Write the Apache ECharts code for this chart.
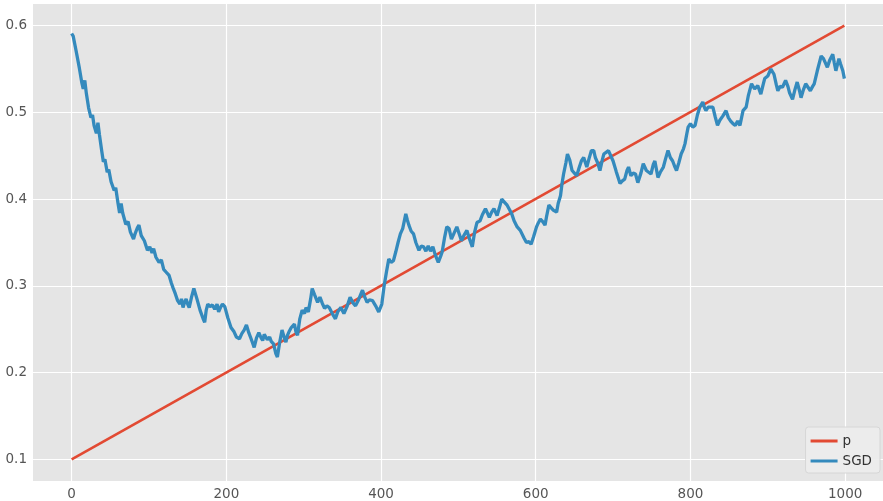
<!DOCTYPE html>
<html>
<head>
<meta charset="utf-8">
<script src="https://cdn.jsdelivr.net/npm/echarts@6/dist/echarts.min.js"></script>
<style>
  html, body { margin: 0; padding: 0; background: #ffffff; }
  #chart { width: 883px; height: 501px; }
</style>
</head>
<body>
<div id="chart"></div>
<script>
// Target probability p rises linearly over the iterations
const pIter = [0, 999];
const pValue = [0.1, 0.6];

// SGD estimate, sampled along the run
const sgdIter = [
  0, 2, 6, 10, 13, 15, 17, 19, 22, 25, 27, 29, 32, 34, 36, 39, 41, 43, 46, 48,
  51, 55, 57, 60, 62, 64, 66, 70, 73, 76, 80, 82, 85, 87, 90, 94, 98, 101, 104, 106,
  109, 113, 116, 119, 122, 126, 129, 131, 134, 137, 140, 142, 144, 146, 148, 150, 152, 155, 158, 162,
  166, 170, 172, 174, 176, 179, 182, 185, 188, 190, 193, 195, 198, 202, 206, 210, 213, 217, 220, 223,
  226, 229, 232, 236, 239, 242, 245, 247, 249, 251, 253, 256, 258, 261, 264, 266, 269, 272, 275, 277,
  279, 281, 284, 288, 290, 292, 295, 298, 301, 303, 306, 309, 311, 314, 318, 321, 324, 327, 330, 333,
  337, 341, 344, 348, 352, 356, 360, 364, 367, 371, 376, 379, 382, 385, 389, 393, 397, 399, 401, 404,
  407, 410, 413, 416, 419, 422, 425, 428, 432, 434, 436, 439, 442, 445, 449, 452, 455, 458, 461, 464,
  467, 470, 474, 477, 479, 482, 485, 488, 491, 494, 498, 501, 504, 507, 511, 514, 518, 521, 524, 528,
  531, 535, 538, 540, 543, 546, 550, 553, 556, 560, 563, 566, 569, 572, 576, 580, 582, 585, 588, 591,
  594, 597, 601, 603, 606, 609, 612, 614, 617, 620, 623, 627, 629, 632, 634, 636, 639, 641, 644, 647,
  650, 653, 656, 659, 662, 666, 669, 672, 675, 677, 680, 683, 686, 688, 691, 694, 697, 700, 704, 709,
  712, 715, 718, 720, 723, 726, 729, 732, 736, 739, 743, 746, 749, 752, 754, 758, 761, 765, 768, 771,
  774, 777, 780, 782, 785, 788, 791, 793, 795, 797, 800, 803, 806, 809, 812, 816, 818, 820, 823, 825,
  829, 832, 835, 838, 842, 846, 849, 852, 855, 858, 861, 864, 868, 872, 875, 879, 883, 887, 891, 894,
  896, 900, 904, 908, 911, 913, 916, 919, 923, 926, 928, 932, 935, 938, 941, 943, 946, 949, 952, 955,
  958, 960, 964, 969, 972, 974, 977, 980, 984, 986, 988, 992, 994, 997, 999
];
const sgdValue = [
  0.591, 0.588, 0.570, 0.551, 0.535, 0.527, 0.537, 0.522, 0.505, 0.494, 0.497, 0.485, 0.476, 0.488, 0.474, 0.455, 0.443, 0.446, 0.431, 0.434,
  0.420, 0.410, 0.413, 0.395, 0.384, 0.395, 0.384, 0.371, 0.374, 0.362, 0.354, 0.360, 0.367, 0.370, 0.358, 0.352, 0.341, 0.345, 0.338, 0.343,
  0.333, 0.327, 0.330, 0.319, 0.316, 0.312, 0.303, 0.298, 0.291, 0.283, 0.279, 0.285, 0.275, 0.281, 0.285, 0.279, 0.275, 0.287, 0.297, 0.285,
  0.272, 0.262, 0.258, 0.272, 0.279, 0.276, 0.278, 0.273, 0.279, 0.270, 0.276, 0.279, 0.276, 0.263, 0.252, 0.247, 0.241, 0.239, 0.245, 0.249,
  0.255, 0.246, 0.239, 0.229, 0.240, 0.246, 0.240, 0.237, 0.244, 0.243, 0.238, 0.241, 0.236, 0.233, 0.222, 0.218, 0.235, 0.249, 0.240, 0.235,
  0.243, 0.247, 0.252, 0.256, 0.247, 0.243, 0.262, 0.272, 0.268, 0.275, 0.270, 0.285, 0.297, 0.290, 0.281, 0.287, 0.280, 0.274, 0.277, 0.275,
  0.268, 0.262, 0.270, 0.275, 0.268, 0.276, 0.287, 0.280, 0.277, 0.284, 0.295, 0.287, 0.281, 0.284, 0.283, 0.277, 0.270, 0.272, 0.279, 0.300,
  0.316, 0.331, 0.327, 0.329, 0.339, 0.350, 0.360, 0.366, 0.383, 0.376, 0.370, 0.363, 0.360, 0.350, 0.341, 0.346, 0.345, 0.340, 0.346, 0.340,
  0.345, 0.336, 0.327, 0.334, 0.339, 0.355, 0.368, 0.366, 0.354, 0.360, 0.368, 0.360, 0.352, 0.358, 0.364, 0.355, 0.345, 0.362, 0.373, 0.375,
  0.382, 0.389, 0.383, 0.379, 0.385, 0.389, 0.381, 0.390, 0.400, 0.396, 0.393, 0.388, 0.383, 0.375, 0.368, 0.364, 0.362, 0.355, 0.350, 0.351,
  0.348, 0.356, 0.368, 0.372, 0.377, 0.374, 0.370, 0.380, 0.393, 0.390, 0.387, 0.385, 0.395, 0.404, 0.418, 0.429, 0.442, 0.452, 0.445, 0.433,
  0.430, 0.427, 0.436, 0.444, 0.448, 0.437, 0.447, 0.456, 0.456, 0.448, 0.442, 0.433, 0.445, 0.452, 0.454, 0.456, 0.450, 0.444, 0.432, 0.418,
  0.421, 0.423, 0.433, 0.437, 0.427, 0.430, 0.429, 0.419, 0.430, 0.441, 0.433, 0.431, 0.429, 0.440, 0.444, 0.425, 0.431, 0.437, 0.447, 0.456,
  0.448, 0.444, 0.437, 0.433, 0.442, 0.452, 0.458, 0.464, 0.474, 0.483, 0.487, 0.483, 0.485, 0.497, 0.506, 0.512, 0.506, 0.502, 0.506, 0.504,
  0.506, 0.495, 0.485, 0.491, 0.496, 0.502, 0.494, 0.490, 0.487, 0.485, 0.490, 0.485, 0.502, 0.506, 0.520, 0.533, 0.527, 0.531, 0.521, 0.532,
  0.539, 0.542, 0.550, 0.544, 0.532, 0.525, 0.530, 0.529, 0.537, 0.530, 0.523, 0.515, 0.526, 0.535, 0.525, 0.517, 0.526, 0.533, 0.529, 0.525,
  0.530, 0.533, 0.548, 0.565, 0.562, 0.560, 0.552, 0.560, 0.567, 0.557, 0.548, 0.562, 0.556, 0.548, 0.539
];

// Tick positions
const xTicks = [0, 200, 400, 600, 800, 1000];
const yTicks = [0.1, 0.2, 0.3, 0.4, 0.5, 0.6];

const zip = (xs, ys) => xs.map((x, i) => [x, ys[i]]);

const tickFont = { color: '#555555', fontSize: 13.5, fontFamily: 'DejaVu Sans' };

const chart = echarts.init(document.getElementById('chart'), null, { renderer: 'canvas' });
chart.setOption({
  animation: false,
  backgroundColor: '#ffffff',
  grid: {
    left: 33, top: 4, width: 853, height: 477,
    show: true, backgroundColor: '#E5E5E5', borderWidth: 0
  },
  xAxis: {
    type: 'value',
    min: -49.95, max: 1048.95,
    axisLine: { show: false },
    axisTick: { show: false, customValues: xTicks },
    axisLabel: { ...tickFont, margin: 6, customValues: xTicks, formatter: v => String(Math.round(v)) },
    splitLine: { show: true, lineStyle: { color: '#ffffff', width: 1.2 } }
  },
  yAxis: {
    type: 'value',
    min: 0.075, max: 0.625,
    axisLine: { show: false },
    axisTick: { show: false, customValues: yTicks },
    axisLabel: { ...tickFont, margin: 6, customValues: yTicks, formatter: v => v.toFixed(1) },
    splitLine: { show: true, lineStyle: { color: '#ffffff', width: 1.2 } }
  },
  legend: {
    orient: 'vertical',
    right: 3, bottom: 28,
    backgroundColor: 'rgba(236,236,236,0.9)',
    borderColor: '#d6d6d6', borderWidth: 1, borderRadius: 3,
    padding: [7, 8, 5, 5],
    itemWidth: 27, itemHeight: 3, itemGap: 6,
    icon: 'rect',
    textStyle: { color: '#333333', fontSize: 13.5, fontFamily: 'DejaVu Sans', lineHeight: 14 },
    data: ['p', 'SGD']
  },
  series: [
    {
      name: 'p', type: 'line', showSymbol: false,
      data: zip(pIter, pValue),
      lineStyle: { color: '#E24A33', width: 2.6 },
      itemStyle: { color: '#E24A33' }
    },
    {
      name: 'SGD', type: 'line', showSymbol: false,
      data: zip(sgdIter, sgdValue),
      lineStyle: { color: '#348ABD', width: 3.3 },
      itemStyle: { color: '#348ABD' }
    }
  ]
});
</script>
</body>
</html>
